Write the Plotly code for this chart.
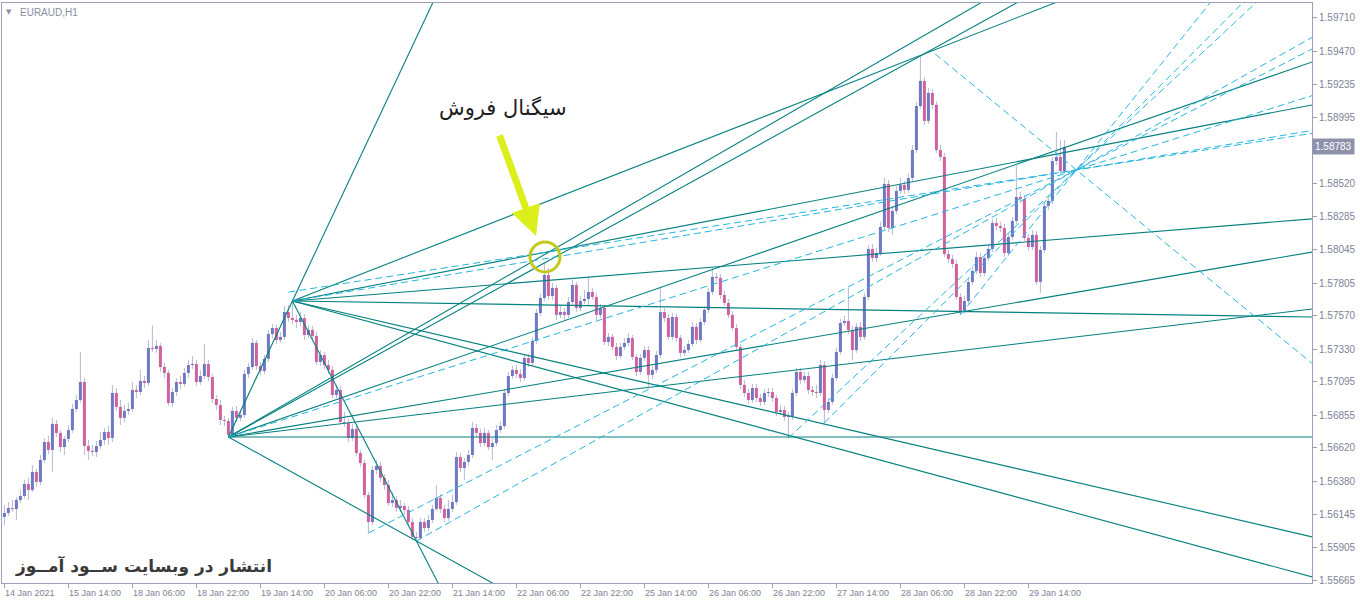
import plotly.graph_objects as go

# ---------------- data: EURAUD H1 candles (bar index 0 = 14 Jan 2021 22:00) ----------------
opens = [
1.56124,1.56153,1.56189,1.56182,1.56246,1.56275,1.56361,1.56318,1.56448,1.56376,
1.56534,1.56663,1.56606,1.56793,1.56728,1.56627,1.56685,1.56749,1.56900,1.56965,
1.57094,1.56634,1.56599,1.56591,1.56634,1.56678,1.56735,1.56692,1.57015,1.56915,
1.56836,1.56886,1.56900,1.57037,1.57022,1.57102,1.57087,1.57339,1.57331,1.57353,
1.57202,1.57159,1.56943,1.57022,1.57094,1.57080,1.57159,1.57216,1.57224,1.57094,
1.57137,1.57224,1.57130,1.56972,1.56929,1.56821,1.56814,1.56714,1.56886,1.56836,
1.56857,1.57152,1.57202,1.57375,1.57209,1.57173,1.57260,1.57439,1.57482,1.57396,
1.57418,1.57597,1.57554,1.57540,1.57525,1.57554,1.57432,1.57468,1.57425,1.57238,
1.57288,1.57216,1.57181,1.57001,1.57037,1.56807,1.56800,1.56692,1.56757,1.56584,
1.56512,1.56282,1.56088,1.56462,1.56491,1.56405,1.56354,1.56225,1.56246,1.56189,
1.56203,1.56175,1.56088,1.55981,1.55973,1.56088,1.56045,1.56103,1.56182,1.56261,
1.56182,1.56117,1.56182,1.56232,1.56555,1.56476,1.56520,1.56570,1.56764,1.56728,
1.56656,1.56728,1.56627,1.56656,1.56749,1.56778,1.57015,1.57137,1.57181,1.57152,
1.57123,1.57267,1.57231,1.57389,1.57590,1.57698,1.57863,1.57712,1.57770,1.57576,
1.57597,1.57576,1.57669,1.57791,1.57626,1.57676,1.57691,1.57741,1.57705,1.57576,
1.57626,1.57382,1.57418,1.57346,1.57281,1.57346,1.57375,1.57410,1.57274,1.57166,
1.57267,1.57324,1.57145,1.57181,1.57288,1.57597,1.57554,1.57418,1.57561,1.57410,
1.57303,1.57324,1.57367,1.57490,1.57396,1.57525,1.57612,1.57741,1.57849,1.57842,
1.57719,1.57662,1.57576,1.57482,1.57346,1.57073,1.57015,1.56965,1.57051,1.56979,
1.56951,1.57015,1.57022,1.56979,1.56879,1.56893,1.56843,1.56850,1.57015,1.57166,
1.57109,1.57137,1.57037,1.57022,1.57015,1.57216,1.56893,1.56951,1.57123,1.57310,
1.57518,1.57533,1.57468,1.57324,1.57490,1.57418,1.57705,1.58050,1.57985,1.58021,
1.58208,1.58517,1.58201,1.58323,1.58467,1.58510,1.58474,1.58560,1.58761,1.59077,
1.59257,1.58970,1.59171,1.59085,1.58761,1.58711,1.58014,1.57978,1.57942,1.57705,
1.57604,1.57676,1.57813,1.57892,1.57992,1.57877,1.57985,1.58050,1.58237,1.58215,
1.58201,1.58021,1.58136,1.58251,1.58424,1.58409,1.58129,1.58064,1.58151,1.57813,
1.58043,1.58359,1.58395,1.58682,1.58711,1.58610]

highs = [
1.56211,1.56232,1.56246,1.56268,1.56318,1.56390,1.56405,1.56498,1.56469,1.56570,
1.56692,1.56706,1.56836,1.56821,1.56749,1.56706,1.56785,1.56936,1.57001,1.57310,
1.57123,1.56678,1.56642,1.56670,1.56735,1.56764,1.56778,1.57073,1.57051,1.56965,
1.56929,1.56943,1.57094,1.57073,1.57181,1.57137,1.57396,1.57504,1.57396,1.57375,
1.57231,1.57181,1.57051,1.57123,1.57137,1.57195,1.57252,1.57281,1.57252,1.57181,
1.57367,1.57252,1.57152,1.57001,1.56965,1.56850,1.56836,1.56915,1.56922,1.56893,
1.57181,1.57231,1.57410,1.57396,1.57238,1.57288,1.57468,1.57511,1.57504,1.57454,
1.57640,1.57648,1.57676,1.57576,1.57597,1.57583,1.57504,1.57497,1.57454,1.57324,
1.57310,1.57252,1.57209,1.57073,1.57066,1.56879,1.56828,1.56793,1.56778,1.56606,
1.56534,1.56304,1.56491,1.56534,1.56520,1.56433,1.56390,1.56304,1.56275,1.56246,
1.56225,1.56203,1.56117,1.56017,1.56117,1.56117,1.56139,1.56211,1.56354,1.56290,
1.56211,1.56246,1.56282,1.56591,1.56584,1.56548,1.56606,1.56807,1.56793,1.56757,
1.56764,1.56749,1.56692,1.56785,1.56814,1.57044,1.57166,1.57209,1.57216,1.57188,
1.57296,1.57296,1.57418,1.57619,1.57727,1.57957,1.57913,1.57806,1.57791,1.57640,
1.57626,1.57705,1.57827,1.57813,1.57712,1.57755,1.57856,1.57770,1.57734,1.57655,
1.57648,1.57446,1.57439,1.57375,1.57375,1.57410,1.57446,1.57432,1.57296,1.57296,
1.57353,1.57353,1.57209,1.57317,1.57777,1.57626,1.57583,1.57590,1.57583,1.57432,
1.57353,1.57396,1.57525,1.57518,1.57554,1.57640,1.57770,1.57913,1.57877,1.57870,
1.57748,1.57691,1.57604,1.57511,1.57367,1.57109,1.57044,1.57080,1.57080,1.57008,
1.57044,1.57051,1.57051,1.57001,1.56929,1.56922,1.56879,1.57044,1.57195,1.57195,
1.57166,1.57166,1.57066,1.57073,1.57252,1.57245,1.56979,1.57152,1.57339,1.57547,
1.57569,1.57770,1.57497,1.57518,1.57525,1.57734,1.58079,1.58086,1.58057,1.58244,
1.58560,1.58546,1.58359,1.58503,1.58560,1.58539,1.58596,1.58797,1.59106,1.59444,
1.59286,1.59207,1.59200,1.59113,1.58797,1.58740,1.58043,1.58007,1.57971,1.57734,
1.57712,1.57849,1.57928,1.58028,1.58021,1.58014,1.58086,1.58265,1.58273,1.58244,
1.58230,1.58165,1.58280,1.58653,1.58459,1.58438,1.58158,1.58186,1.58179,1.58071,
1.58388,1.58431,1.58711,1.58891,1.58833,1.58833]

lows = [
1.56067,1.56132,1.56160,1.56103,1.56225,1.56254,1.56246,1.56304,1.56340,1.56354,
1.56512,1.56577,1.56448,1.56699,1.56591,1.56570,1.56663,1.56728,1.56879,1.56943,
1.56570,1.56534,1.56563,1.56555,1.56613,1.56642,1.56642,1.56663,1.56886,1.56785,
1.56807,1.56857,1.56879,1.56979,1.57001,1.57051,1.57066,1.57310,1.57303,1.57166,
1.57123,1.56922,1.56915,1.56994,1.57044,1.57058,1.57123,1.57188,1.57066,1.57073,
1.57116,1.57102,1.56943,1.56893,1.56785,1.56778,1.56699,1.56699,1.56807,1.56814,
1.56836,1.57123,1.57181,1.57181,1.57145,1.57152,1.57238,1.57410,1.57367,1.57375,
1.57396,1.57525,1.57511,1.57482,1.57497,1.57396,1.57410,1.57396,1.57216,1.57209,
1.57188,1.57152,1.56979,1.56979,1.56785,1.56771,1.56663,1.56670,1.56563,1.56484,
1.56261,1.56009,1.56067,1.56433,1.56376,1.56318,1.56203,1.56196,1.56160,1.56160,
1.56139,1.56060,1.55959,1.55952,1.55959,1.56017,1.56024,1.56081,1.56167,1.56153,
1.56088,1.56096,1.56160,1.56211,1.56448,1.56390,1.56491,1.56548,1.56699,1.56627,
1.56634,1.56606,1.56534,1.56634,1.56728,1.56757,1.56994,1.57116,1.57123,1.57094,
1.57102,1.57202,1.57209,1.57367,1.57569,1.57676,1.57684,1.57684,1.57540,1.57554,
1.57540,1.57554,1.57648,1.57597,1.57604,1.57655,1.57648,1.57684,1.57540,1.57554,
1.57360,1.57353,1.57324,1.57252,1.57260,1.57324,1.57353,1.57252,1.57137,1.57145,
1.57245,1.57058,1.57116,1.57159,1.57267,1.57525,1.57396,1.57396,1.57382,1.57274,
1.57281,1.57303,1.57346,1.57367,1.57375,1.57504,1.57590,1.57719,1.57813,1.57691,
1.57640,1.57554,1.57461,1.57324,1.57044,1.56987,1.56936,1.56943,1.56951,1.56922,
1.56929,1.56987,1.56951,1.56850,1.56857,1.56814,1.56692,1.56821,1.56994,1.57080,
1.57087,1.57008,1.56994,1.56979,1.56994,1.56800,1.56872,1.56929,1.57102,1.57288,
1.57497,1.57439,1.57252,1.57303,1.57389,1.57396,1.57684,1.57957,1.57957,1.58000,
1.58186,1.58172,1.58151,1.58301,1.58445,1.58445,1.58452,1.58539,1.58740,1.59056,
1.58941,1.58948,1.59056,1.58740,1.58682,1.57992,1.57949,1.57913,1.57684,1.57576,
1.57583,1.57655,1.57791,1.57870,1.57849,1.57856,1.57964,1.58028,1.58186,1.58172,
1.57992,1.58000,1.58115,1.58230,1.58380,1.58107,1.58036,1.58043,1.57791,1.57734,
1.58021,1.58330,1.58373,1.58653,1.58589,1.58589]

closes = [
1.56153,1.56189,1.56182,1.56246,1.56275,1.56361,1.56318,1.56448,1.56376,1.56534,
1.56663,1.56606,1.56793,1.56728,1.56627,1.56685,1.56749,1.56900,1.56965,1.57094,
1.56634,1.56599,1.56591,1.56634,1.56678,1.56735,1.56692,1.57015,1.56915,1.56836,
1.56886,1.56900,1.57037,1.57022,1.57102,1.57087,1.57339,1.57331,1.57353,1.57202,
1.57159,1.56943,1.57022,1.57094,1.57080,1.57159,1.57216,1.57224,1.57094,1.57137,
1.57224,1.57130,1.56972,1.56929,1.56821,1.56814,1.56714,1.56886,1.56836,1.56857,
1.57152,1.57202,1.57375,1.57209,1.57173,1.57260,1.57439,1.57482,1.57396,1.57418,
1.57597,1.57554,1.57540,1.57525,1.57554,1.57432,1.57468,1.57425,1.57238,1.57288,
1.57216,1.57181,1.57001,1.57037,1.56807,1.56800,1.56692,1.56757,1.56584,1.56512,
1.56282,1.56088,1.56462,1.56491,1.56405,1.56354,1.56225,1.56246,1.56189,1.56203,
1.56175,1.56088,1.55981,1.55973,1.56088,1.56045,1.56103,1.56182,1.56261,1.56182,
1.56117,1.56182,1.56232,1.56555,1.56476,1.56520,1.56570,1.56764,1.56728,1.56656,
1.56728,1.56627,1.56656,1.56749,1.56778,1.57015,1.57137,1.57181,1.57152,1.57123,
1.57267,1.57231,1.57389,1.57590,1.57698,1.57863,1.57712,1.57770,1.57576,1.57597,
1.57576,1.57669,1.57791,1.57626,1.57676,1.57691,1.57741,1.57705,1.57576,1.57626,
1.57382,1.57418,1.57346,1.57281,1.57346,1.57375,1.57410,1.57274,1.57166,1.57267,
1.57324,1.57145,1.57181,1.57288,1.57597,1.57554,1.57418,1.57561,1.57410,1.57303,
1.57324,1.57367,1.57490,1.57396,1.57525,1.57612,1.57741,1.57849,1.57842,1.57719,
1.57662,1.57576,1.57482,1.57346,1.57073,1.57015,1.56965,1.57051,1.56979,1.56951,
1.57015,1.57022,1.56979,1.56879,1.56893,1.56843,1.56850,1.57015,1.57166,1.57109,
1.57137,1.57037,1.57022,1.57015,1.57216,1.56893,1.56951,1.57123,1.57310,1.57518,
1.57533,1.57468,1.57324,1.57490,1.57418,1.57705,1.58050,1.57985,1.58021,1.58208,
1.58517,1.58201,1.58323,1.58467,1.58510,1.58474,1.58560,1.58761,1.59077,1.59257,
1.58970,1.59171,1.59085,1.58761,1.58711,1.58014,1.57978,1.57942,1.57705,1.57604,
1.57676,1.57813,1.57892,1.57992,1.57877,1.57985,1.58050,1.58237,1.58215,1.58201,
1.58021,1.58136,1.58251,1.58424,1.58409,1.58129,1.58064,1.58151,1.57813,1.58043,
1.58359,1.58395,1.58682,1.58711,1.58610,1.58783]

bar_index = list(range(len(closes)))

x_tick_bars = [0, 16, 32, 48, 64, 80, 96, 112, 128, 144, 160, 176, 192, 208, 224, 240, 256]
x_tick_labels = ["14 Jan 2021", "15 Jan 14:00", "18 Jan 06:00", "18 Jan 22:00", "19 Jan 14:00",
                 "20 Jan 06:00", "20 Jan 22:00", "21 Jan 14:00", "22 Jan 06:00", "22 Jan 22:00",
                 "25 Jan 14:00", "26 Jan 06:00", "26 Jan 22:00", "27 Jan 14:00", "28 Jan 06:00",
                 "28 Jan 22:00", "29 Jan 14:00"]
y_tick_values = [1.59710, 1.59470, 1.59235, 1.58995, 1.58520, 1.58285, 1.58045, 1.57805, 1.57570,
                 1.57330, 1.57095, 1.56855, 1.56620, 1.56380, 1.56145, 1.55905, 1.55665]
last_price = 1.58783

# drawn objects: each ray starts at (x0, p0) and passes through (x1, p1)
ray_x0 = [56, 56, 56, 56, 56, 56, 56, 56,
          72, 72, 72, 72, 72, 72, 72,
          56, 72, 71, 103, 91, 196, 205, 239, 232.7]
ray_p0 = [1.56699, 1.56699, 1.56699, 1.56699, 1.56699, 1.56699, 1.56699, 1.56699,
          1.57676, 1.57676, 1.57676, 1.57676, 1.57676, 1.57676, 1.57676,
          1.56699, 1.57676, 1.57740, 1.55952, 1.56009, 1.56692, 1.56800, 1.57576, 1.59451]
ray_x1 = [72, 244, 253, 327, 327, 327, 327, 103,
          262.5, 327, 327, 327, 327, 327, 103,
          268, 268, 268, 268, 268, 268, 268, 268, 268]
ray_p1 = [1.57676, 1.59817, 1.59817, 1.59394, 1.58028, 1.57619, 1.56699, 1.55952,
          1.59817, 1.59085, 1.58266, 1.57561, 1.55981, 1.55693, 1.55952,
          1.58618, 1.58618, 1.58618, 1.58618, 1.58618, 1.58618, 1.58618, 1.58618, 1.58618]
ray_kind = ["trend"] * 15 + ["fibo"] * 9

# ---------------- styling ----------------
BULL = "#6f78c3"
BEAR = "#d0619c"
WICK = "#b7bad0"
TEAL = "#04807f"
CYAN = "#25b5de"
AXIS = "#9ca0b8"
TXT = "#7e8297"

fig = go.Figure()

# wicks
wx, wy = [], []
for i, h, l in zip(bar_index, highs, lows):
    wx += [i, i, None]
    wy += [l, h, None]
fig.add_trace(go.Scatter(x=wx, y=wy, mode="lines", line=dict(color=WICK, width=1),
                         hoverinfo="skip", showlegend=False))

# bodies (thick vertical strokes so they sit above the wicks)
for bull, col in ((True, BULL), (False, BEAR)):
    bx, by = [], []
    for i, o, c in zip(bar_index, opens, closes):
        if (c >= o) == bull:
            bx += [i, i, None]
            by += [o, c, None]
    fig.add_trace(go.Scatter(x=bx, y=by, mode="lines", line=dict(color=col, width=3),
                             hoverinfo="skip", showlegend=False))

# rays
x_end = 340
for x0, p0, x1, p1, kind in zip(ray_x0, ray_p0, ray_x1, ray_p1, ray_kind):
    slope = (p1 - p0) / (x1 - x0)
    p_end = p0 + slope * (x_end - x0)
    if kind == "trend":
        ln = dict(color=TEAL, width=1.1)
    else:
        ln = dict(color=CYAN, width=1, dash="7px,4px")
    fig.add_trace(go.Scatter(x=[x0, x_end], y=[p0, p_end], mode="lines", line=ln,
                             hoverinfo="skip", showlegend=False))

annotations = []
for b, lab in zip(x_tick_bars, x_tick_labels):
    annotations.append(dict(x=b, y=0, xref="x", yref="paper", text=lab, showarrow=False,
                            xanchor="left", yanchor="top", xshift=-1, yshift=-3,
                            font=dict(family="Liberation Sans, Arial", size=9, color=TXT)))

# current price tag
annotations.append(dict(x=1, y=last_price, xref="paper", yref="y", text=f"{last_price:.5f}", showarrow=False,
                        xanchor="left", yanchor="middle", xshift=0, bgcolor="#8d91aa", borderpad=2,
                        font=dict(family="Liberation Sans, Arial", size=10, color="white")))

# chart caption
annotations.append(dict(x=0.0055, y=0.984, xref="paper", yref="paper", text="▼", showarrow=False,
                        xanchor="center", yanchor="middle",
                        font=dict(family="DejaVu Sans", size=7, color="#8a8ea2")))
annotations.append(dict(x=0.0125, y=0.984, xref="paper", yref="paper", text="EURAUD,H1", showarrow=False,
                        xanchor="left", yanchor="middle",
                        font=dict(family="Liberation Sans, Arial", size=10, color="#8a8ea2")))

# sell signal
annotations.append(dict(x=124.6, y=1.59063, xref="x", yref="y", text="سیگنال فروش", showarrow=False,
                        xanchor="center", yanchor="middle",
                        font=dict(family="DejaVu Sans", size=21, color="#1e1e1e")))
annotations.append(dict(x=132.9, y=1.58143, xref="x", yref="y", text="", showarrow=True,
                        ax=-37, ay=-102, arrowhead=2, arrowsize=0.85, arrowwidth=7,
                        arrowcolor="#dcef1c"))

# watermark
annotations.append(dict(x=0.0085, y=0.03, xref="paper", yref="paper", text="<b>انتشار در وبسایت ســود آمــوز</b>",
                        showarrow=False, xanchor="left", yanchor="middle",
                        font=dict(family="DejaVu Sans", size=17, color="#3a3a3a")))

shapes = [dict(type="circle", xref="x", yref="y", x0=131.4, x1=138.9, y0=1.57885, y1=1.58100,
               line=dict(color="#c3ca1d", width=3))]

fig.update_layout(
    width=1360, height=603,
    margin=dict(l=2, r=48, t=3, b=20),
    paper_bgcolor="white", plot_bgcolor="white",
    showlegend=False,
    annotations=annotations, shapes=shapes,
    xaxis=dict(range=[-0.6, 326.9], showgrid=False, zeroline=False,
               tickvals=x_tick_bars, showticklabels=False, ticks="outside", ticklen=4,
               tickcolor=AXIS, showline=True, linecolor=AXIS, linewidth=1, mirror=True),
    yaxis=dict(range=[1.55650, 1.59817], side="right", showgrid=False, zeroline=False,
               tickvals=y_tick_values, ticktext=[f"{v:.5f}" for v in y_tick_values],
               ticks="outside", ticklen=4, tickcolor=AXIS,
               tickfont=dict(family="Liberation Sans, Arial", size=10, color=TXT),
               showline=True, linecolor=AXIS, linewidth=1, mirror=True),
)

fig.write_html("out.html", config={"displayModeBar": False},
               post_script="document.body.style.margin='0px';document.body.style.padding='0px';"
                           "document.body.style.overflow='hidden';")
